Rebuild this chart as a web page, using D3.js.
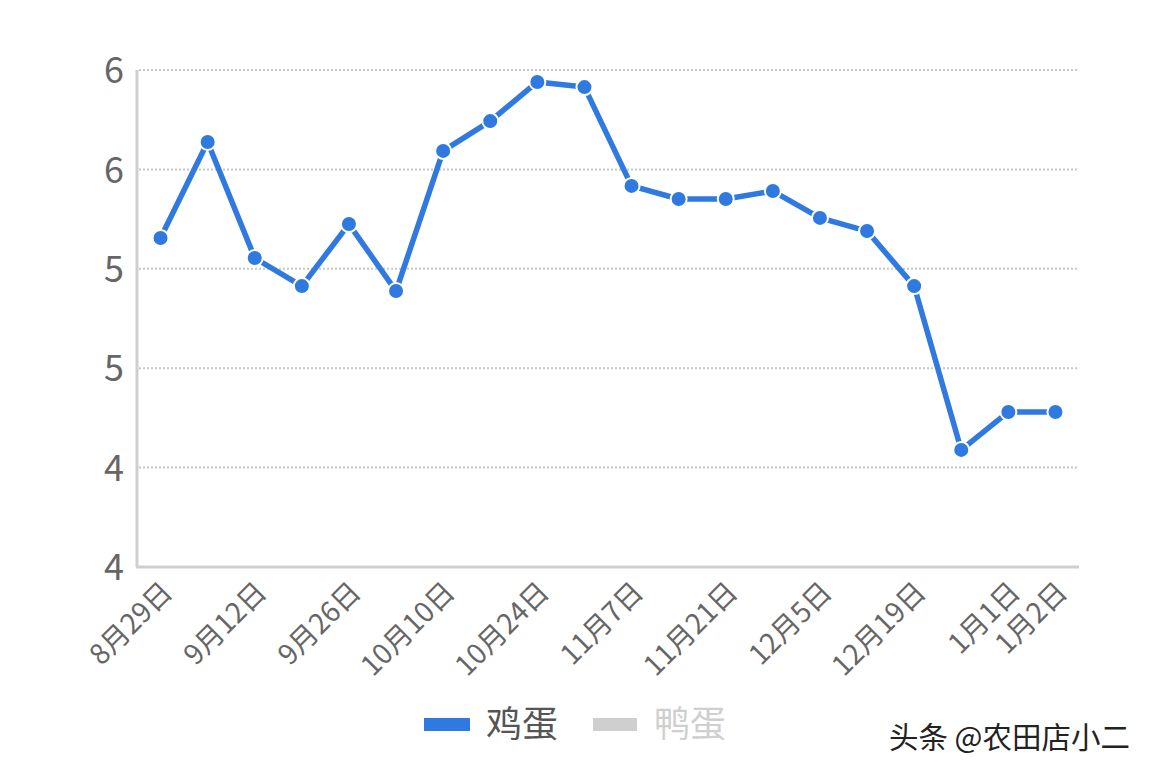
<!DOCTYPE html>
<html><head><meta charset="utf-8">
<script src="https://cdn.jsdelivr.net/npm/d3@7"></script>
<style>body{margin:0;background:#fff}svg{display:block}</style>
</head><body>
<script>
const categories = ["8月29日","9月5日","9月12日","9月19日","9月26日","10月3日","10月10日","10月17日","10月24日","10月31日","11月7日","11月14日","11月21日","11月28日","12月5日","12月12日","12月19日","12月26日","1月1日","1月2日"];
const eggValues = [5.155,5.638,5.054,4.913,5.225,4.888,5.593,5.743,5.94,5.914,5.417,5.351,5.351,5.391,5.256,5.19,4.913,4.089,4.28,4.28];
const shownLabels = ["8月29日","9月12日","9月26日","10月10日","10月24日","11月7日","11月21日","12月5日","12月19日","1月1日","1月2日"];
const yTickValues = [3.5,4.0,4.5,5.0,5.5,6.0];
const yTickLabels = ["4","4","5","5","6","6"];
const seriesNames = ["鸡蛋","鸭蛋"];

const W=1152,H=773;
const font='"Noto Sans CJK SC","Noto Sans",sans-serif';
const svg=d3.select("body").append("svg").attr("width",W).attr("height",H);
const x=d3.scalePoint().domain(categories).range([137,1079]).padding(0.5);
const y=d3.scaleLinear().domain([3.5,6.0]).range([567,70]);

// gridlines
svg.append("g").selectAll("line").data(yTickValues.filter(v=>v>3.5)).join("line")
 .attr("x1",139).attr("x2",1079).attr("y1",d=>y(d)).attr("y2",d=>y(d))
 .attr("stroke","#c8c8c8").attr("stroke-width",2).attr("stroke-dasharray","2,2");

// y axis
const yAxis=d3.axisLeft(y).tickValues(yTickValues).tickSize(0).tickPadding(0)
 .tickFormat((d,i)=>yTickLabels[i]);
const gy=svg.append("g").attr("transform","translate(124,0)").call(yAxis);
gy.select(".domain").remove();
gy.selectAll("text").attr("font-family",font).attr("font-size",36).attr("fill","#666").attr("dy","0.35em");

// axis lines
svg.append("line").attr("x1",137).attr("x2",137).attr("y1",70).attr("y2",567).attr("stroke","#cfcfcf").attr("stroke-width",3);
svg.append("line").attr("x1",136).attr("x2",1079).attr("y1",567).attr("y2",567).attr("stroke","#cfcfcf").attr("stroke-width",3);

// x axis labels
const xAxis=d3.axisBottom(x).tickValues(shownLabels).tickSize(0).tickPadding(0);
const gx=svg.append("g").attr("transform","translate(0,567)").call(xAxis);
gx.select(".domain").remove();
gx.selectAll("text").attr("font-family",font).attr("font-size",28).attr("fill","#666")
 .attr("text-anchor","end").attr("dy",0).attr("y",0)
 .attr("transform","translate(13,27) rotate(-45)");

// line
const line=d3.line().x((d,i)=>x(categories[i])).y(d=>y(d));
svg.append("path").datum(eggValues).attr("d",line).attr("fill","none")
 .attr("stroke","#2f79e0").attr("stroke-width",5.5).attr("stroke-linejoin","round");
svg.append("g").selectAll("circle").data(eggValues).join("circle")
 .attr("cx",(d,i)=>x(categories[i])).attr("cy",d=>y(d)).attr("r",8)
 .attr("fill","#2f79e0").attr("stroke","#fff").attr("stroke-width",2);

// legend
const leg=svg.append("g");
leg.append("rect").attr("x",424).attr("y",718).attr("width",46).attr("height",13).attr("fill","#2f79e0");
leg.append("text").attr("x",486).attr("y",737).text(seriesNames[0]).attr("font-family",font).attr("font-size",36).attr("fill","#555");
leg.append("rect").attr("x",593).attr("y",718).attr("width",44).attr("height",13).attr("fill","#cfcfcf");
leg.append("text").attr("x",654).attr("y",737).text(seriesNames[1]).attr("font-family",font).attr("font-size",36).attr("fill","#cfcfcf");

// watermark
svg.append("text").attr("x",889).attr("y",748).text("头条 @农田店小二").attr("font-family",font).attr("font-size",29.5).attr("fill","#222");
</script>
</body></html>
